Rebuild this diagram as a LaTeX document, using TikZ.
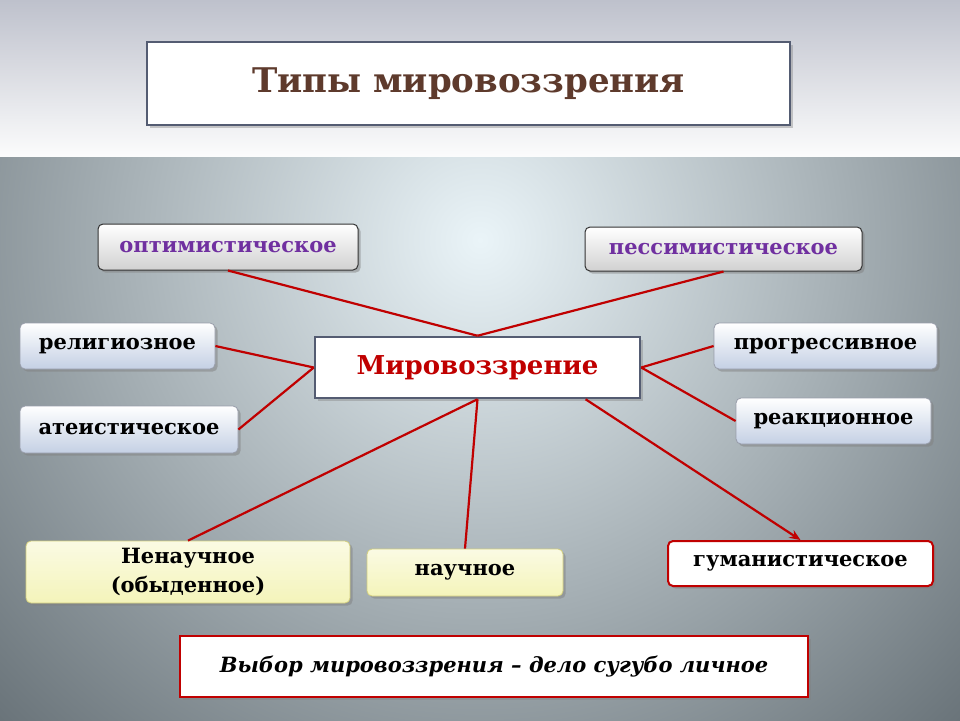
\documentclass[tikz,border=0pt]{standalone}
\usepackage{fontspec}
\setmainfont{DejaVu Serif}
\usepackage{tikz}
\usetikzlibrary{calc,positioning,arrows.meta,shadows}

\definecolor{linkred}{RGB}{192,0,0}
\definecolor{optviolet}{RGB}{112,48,160}
\definecolor{titlebrown}{RGB}{94,58,44}
\definecolor{slate}{RGB}{84,92,114}
\definecolor{bandtop}{RGB}{190,193,204}
\definecolor{bgcenter}{RGB}{234,244,248}
\definecolor{bgouter}{RGB}{100,110,116}
\definecolor{paleblue}{RGB}{196,208,228}
\definecolor{paleyellow}{RGB}{244,244,186}

\tikzset{
  box/.style={rounded corners=5pt, minimum height=46pt, inner sep=0pt,
    font=\bfseries\fontsize{21}{26}\selectfont},
  greybox/.style={box, draw=black!80, line width=1pt, top color=white,
    bottom color=black!18, drop shadow={opacity=0.5}},
  bluebox/.style={box, draw=slate!60, line width=0.8pt, top color=white,
    bottom color=paleblue, drop shadow={opacity=0.5}},
  yellowbox/.style={box, draw=olive!40, line width=0.8pt, top color=white!60!paleyellow,
    bottom color=paleyellow, drop shadow={opacity=0.5}},
  redbox/.style={box, draw=linkred, line width=2pt, fill=white, drop shadow={opacity=0.5}},
  plainbox/.style={draw=slate, line width=2.5pt, fill=white, inner sep=0pt, drop shadow={opacity=0.4}},
  link/.style={linkred, line width=2.2pt},
}

\begin{document}
\begin{tikzpicture}[x=1pt, y=-1pt]
    \useasboundingbox (0,0) rectangle (960,720);

    \shade[top color=bandtop, bottom color=white!95!bandtop] (0,0) rectangle (960,157);
    \begin{scope}
        \clip (0,157) rectangle (960,720);
        \fill[bgouter] (0,157) rectangle (960,720);
        \shade[inner color=bgcenter, outer color=bgouter] (480,240) circle (710);
    \end{scope}

    \node (title) at (468.5,83.5) [plainbox, minimum width=643pt, minimum height=83pt,
        font=\bfseries\fontsize{34}{40}\selectfont, text=titlebrown] {Типы мировоззрения};

    \node (wv) at (477.5,367.5) [plainbox, minimum width=325pt, minimum height=61pt,
        font=\bfseries\fontsize{26}{30}\selectfont, text=linkred] {Мировоззрение};

    \node (opt) at (228,247) [greybox, minimum width=260pt, text=optviolet] {оптимистическое};
    \node (pes) at (723.5,249) [greybox, minimum width=277pt, minimum height=44pt, text=optviolet] {пессимистическое};

    \node (rel) at (117.5,346) [bluebox, minimum width=195pt] {религиозное};
    \node (ath) at (129,429.5) [bluebox, minimum width=218pt, minimum height=47pt] {атеистическое};
    \node (prog) at (825.5,346) [bluebox, minimum width=223pt] {прогрессивное};
    \node (reac) at (833.5,421) [bluebox, minimum width=195pt] {реакционное};

    \node (nonsci) at (188,572) [yellowbox, minimum width=324pt, minimum height=62pt, align=center,
        font=\bfseries\fontsize{21}{29}\selectfont] {Ненаучное\\(обыденное)};
    \node (sci) at (465,572.5) [yellowbox, minimum width=196pt, minimum height=47pt] {научное};
    \node (hum) at (800.5,563.5) [redbox, minimum width=265pt, minimum height=45pt] {гуманистическое};

    \node (choice) at (494,666.5) [draw=linkred, line width=2.5pt, fill=white, inner sep=0pt,
        minimum width=628pt, minimum height=61pt, drop shadow={opacity=0.4},
        font=\bfseries\itshape\fontsize{21}{26}\selectfont] {Выбор мировоззрения – дело сугубо личное};

    \draw[link] (opt.south) -- (wv.north);
    \draw[link] (pes.south) -- (wv.north);
    \draw[link] (rel.east) -- (wv.west);
    \draw[link] (ath.east) -- (wv.west);
    \draw[link] (prog.west) -- (wv.east);
    \draw[link] (reac.west) -- (wv.east);
    \draw[link] (wv.south) -- (nonsci.north);
    \draw[link] (wv.south) -- (sci.north);
    \draw[link, -{Stealth[length=11pt,width=9pt]}] ($(wv.south)!0.66!(wv.south east)$) -- (hum.north);
\end{tikzpicture}
\end{document}
